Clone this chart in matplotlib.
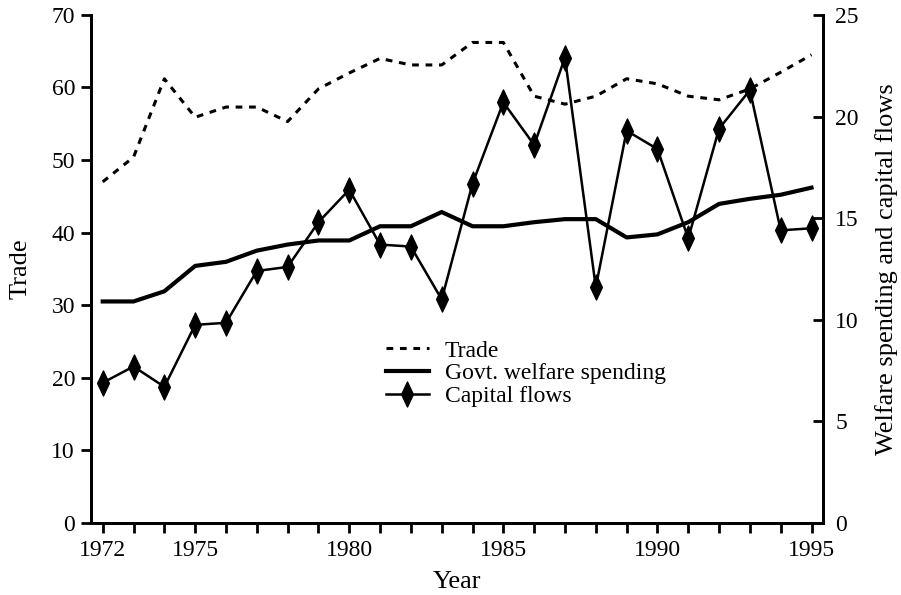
import numpy as np
import matplotlib
matplotlib.use("Agg")
import matplotlib.pyplot as plt
from matplotlib.path import Path

# ─── Data ─────────────────────────────────────────────────────────────
years = list(range(1972, 1996))

trade = [47.0, 50.4, 61.2, 55.9, 57.3, 57.3, 55.3, 59.8, 62.0, 64.0,
         63.1, 63.1, 66.2, 66.2, 58.8, 57.7, 58.8, 61.2, 60.5, 58.8,
         58.3, 59.8, 62.1, 64.5]

welfare = [10.9, 10.9, 11.4, 12.65, 12.85, 13.4, 13.7, 13.9, 13.9, 14.6,
           14.6, 15.3, 14.6, 14.6, 14.8, 14.95, 14.95, 14.05, 14.2, 14.8,
           15.7, 15.95, 16.15, 16.5]

capital = [6.9, 7.7, 6.7, 9.75, 9.85, 12.4, 12.6, 14.8, 16.4, 13.7,
           13.6, 11.0, 16.7, 20.7, 18.6, 22.9, 11.6, 19.3, 18.4, 14.0,
           19.4, 21.3, 14.4, 14.5]

year_ticks   = [1972, 1975, 1980, 1985, 1990, 1995]
trade_ticks  = list(range(0, 71, 10))
right_ticks  = list(range(0, 26, 5))

# ─── Style ────────────────────────────────────────────────────────────
plt.rcParams["font.family"] = ["Liberation Serif", "DejaVu Serif"]
TICK_FS = 17
LABEL_FS = 19
LEG_FS = 17

diamond = Path([(0, 1), (0.47, 0), (0, -1), (-0.47, 0), (0, 1)],
               [Path.MOVETO, Path.LINETO, Path.LINETO, Path.LINETO,
                Path.CLOSEPOLY])

fig = plt.figure(figsize=(9.01, 5.95), dpi=100)
ax = fig.add_axes([0.101, 0.121, 0.812, 0.854])
ax2 = ax.twinx()

l_trade, = ax.plot(years, trade, color="black", linewidth=2.2,
                   linestyle=(0, (2.2, 2.2)), label="Trade")
l_welf, = ax2.plot(years, welfare, color="black", linewidth=3.0,
                   label="Govt. welfare spending")
l_cap, = ax2.plot(years, capital, color="black", linewidth=1.8,
                  marker=diamond, markersize=18, label="Capital flows")

ax.set_xlim(1971.62, 1995.36)
ax.set_ylim(0, 70)
ax2.set_ylim(0, 25)

ax.set_xticks(years, minor=True)
ax.set_xticks(year_ticks)
ax.set_xticklabels([str(y) for y in year_ticks], fontsize=TICK_FS)
ax.tick_params(axis="x", which="both", direction="out", length=7.5,
               width=2, pad=5)
ax.set_yticks(trade_ticks)
ax.set_yticklabels([str(t) for t in trade_ticks], fontsize=TICK_FS)
ax.tick_params(axis="y", direction="out", length=7.5, width=2, pad=4)

ax2.set_yticks(right_ticks)
ax2.set_yticklabels([str(t) for t in right_ticks], fontsize=TICK_FS)
ax2.tick_params(axis="y", direction="in", length=7, width=2, pad=9)

for a in (ax, ax2):
    a.spines["top"].set_visible(False)
    for s in ("left", "right", "bottom"):
        a.spines[s].set_linewidth(2)

ax.set_xlabel("Year", fontsize=LABEL_FS, labelpad=7)
ax.set_ylabel("Trade", fontsize=LABEL_FS, labelpad=14)
ax2.set_ylabel("Welfare spending and capital flows", fontsize=LABEL_FS,
               labelpad=12)

fig.legend(handles=[l_trade, l_welf, l_cap], loc="upper left",
           bbox_to_anchor=(386 / 901, 1 - 340 / 595), frameon=False,
           fontsize=LEG_FS, handlelength=1.8, handletextpad=0.7,
           labelspacing=0.05, borderpad=0, borderaxespad=0)

fig.savefig("out.png", dpi=100)
